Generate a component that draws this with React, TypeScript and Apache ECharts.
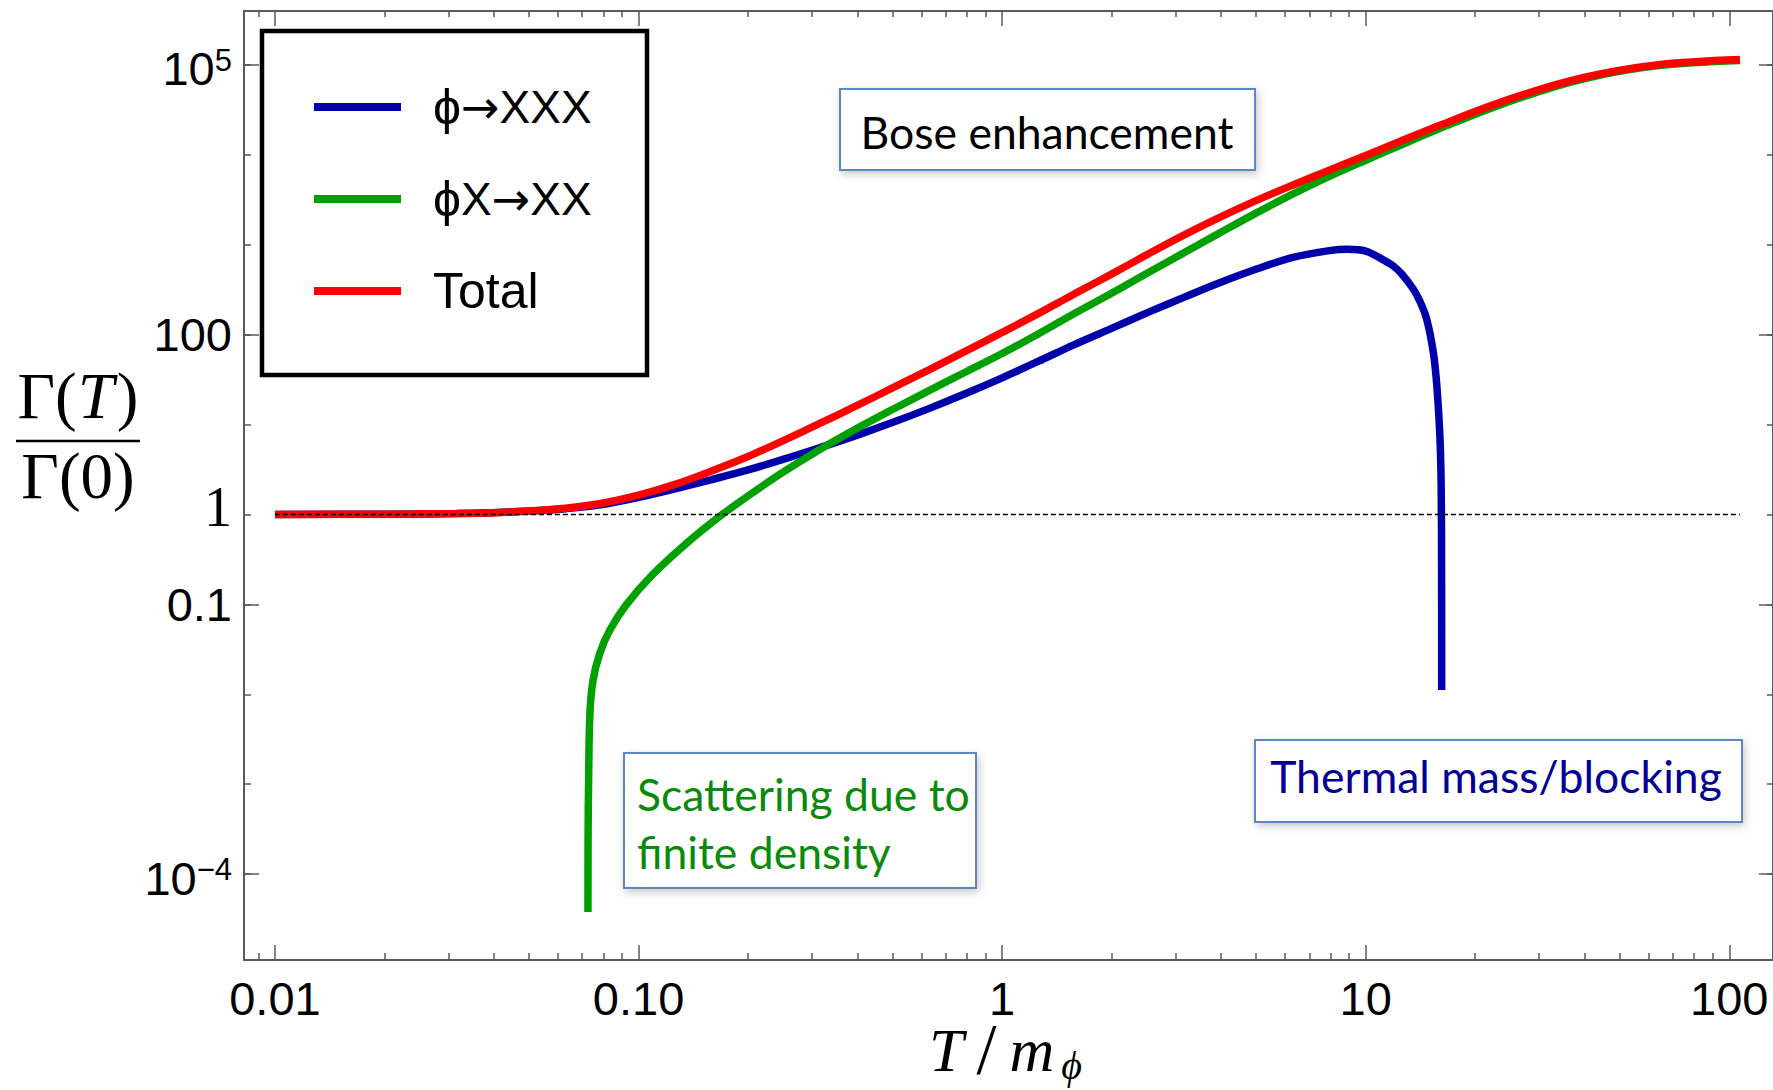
import React, { useEffect, useRef } from 'react';
import * as echarts from 'echarts';

// ---------- data ----------
// phi -> XXX
const blueT = [0.01, 0.02, 0.0316, 0.0398, 0.0501, 0.0631, 0.0794, 0.1, 0.126, 0.158, 0.2, 0.251, 0.316, 0.398, 0.501, 0.631, 0.794, 1, 1.26, 1.58, 2.0, 2.51, 3.16, 3.98, 5.01, 6.31, 7.94, 8.91, 10, 11.2, 11.9, 12.6, 13.5, 14.1, 14.7, 15.35, 15.7, 16.0, 16.13, 16.17, 16.18];
const blueRate = [1.0, 1.007, 1.023, 1.047, 1.091, 1.161, 1.288, 1.549, 1.928, 2.427, 3.126, 4.121, 5.559, 7.586, 10.59, 15.14, 22.13, 33.11, 50.7, 77.62, 117.5, 175.8, 260.0, 380.2, 537.0, 724.4, 861.0, 891.3, 851.1, 676.1, 582.1, 467.7, 323.6, 234.4, 151.4, 63.1, 26.3, 7.413, 1.995, 0.251, 0.0112];

// phi X -> XX
const greenT = [0.0726, 0.07265, 0.0729, 0.0735, 0.075, 0.0783, 0.0834, 0.0927, 0.1096, 0.135, 0.168, 0.2, 0.251, 0.316, 0.398, 0.501, 0.631, 0.794, 1, 1.26, 1.58, 2.0, 2.51, 3.16, 3.98, 5.01, 6.31, 7.94, 10, 12.6, 15.8, 25.1, 39.8, 63.1, 107];
const greenRate = [3.8e-5, 2.51e-4, 1.12e-3, 6.17e-3, 0.01445, 0.02884, 0.05188, 0.1, 0.2168, 0.4721, 0.9661, 1.607, 2.992, 5.321, 9.016, 14.79, 23.99, 38.46, 61.66, 102.3, 171.8, 288.4, 484.2, 812.8, 1365, 2265, 3673, 5754, 8710, 13032, 19275, 39811, 69984, 97724, 112202];

// Total
const totalT = [0.01, 0.02, 0.0316, 0.0398, 0.0501, 0.0631, 0.0794, 0.1, 0.126, 0.158, 0.2, 0.251, 0.316, 0.398, 0.501, 0.631, 0.794, 1, 1.26, 1.58, 2.0, 2.51, 3.16, 3.98, 5.01, 6.31, 7.94, 10, 15.8, 25.1, 39.8, 63.1, 107];
const totalRate = [1.0, 1.007, 1.023, 1.047, 1.096, 1.175, 1.334, 1.641, 2.163, 3.02, 4.416, 6.683, 10.35, 16.22, 25.7, 40.93, 65.61, 105.9, 172.6, 283.8, 471.0, 781.6, 1282, 2032, 3112, 4624, 6761, 9817, 20893, 42170, 72444, 100000, 114815];

// reference line Gamma(T)/Gamma(0) = 1
const refT = [0.01, 107];
const refRate = [1, 1];

const seriesNames = ['ϕ→XXX', 'ϕX→XX', 'Total'];

// ticks
const xMajorTicks = [0.01, 0.1, 1, 10, 100];
const xTickLabels = ['0.01', '0.10', '1', '10', '100'];
const xMinorTicks = [0.009, 0.02, 0.03, 0.04, 0.05, 0.06, 0.07, 0.08, 0.09, 0.2, 0.3, 0.4, 0.5, 0.6, 0.7, 0.8, 0.9, 2, 3, 4, 5, 6, 7, 8, 9, 20, 30, 40, 50, 60, 70, 80, 90];
const yMajorTicks = [1e5, 100, 0.1, 1e-4];
const yMinorTicks = [1e5, 1e4, 1e3, 100, 10, 1, 0.1, 0.01, 1e-3, 1e-4];
const yLabelValues = [1e5, 100, 1, 0.1, 1e-4];
const yTickLabels = ['10^5', '100', '1', '0.1', '10^−4'];

const X_MIN = 0.00822;
const X_MAX = 131.9;
const Y_MIN = 1.109e-5;
const Y_MAX = 3.98e5;

const SANS = "'Liberation Sans', Arial, Helvetica, sans-serif";
const ARROW = "'DejaVu Sans', 'Liberation Sans', sans-serif";
const SERIF = "'Liberation Serif', 'DejaVu Serif', 'Times New Roman', serif";
const CAL = "Lato, 'Open Sans', 'Noto Sans', sans-serif";
const AXIS_COLOR = '#5a5a5a';

const pairs = (xs: number[], ys: number[]) => xs.map((x, i) => [x, ys[i]]);

function nearestIndex(values: number[], v: number) {
  let best = 0;
  let bestD = Infinity;
  values.forEach((t, i) => {
    const d = Math.abs(Math.log10(t) - Math.log10(v));
    if (d < bestD) { bestD = d; best = i; }
  });
  return best;
}

function yLabelFormatter(v: number) {
  const lab = yTickLabels[nearestIndex(yLabelValues, v)];
  if (lab.includes('^')) {
    const [b, s] = lab.split('^');
    return `{b|${b}}{s|${s}}`;
  }
  if (lab === '1') return '{one|1}';
  return `{n|${lab}}`;
}

const legendRich: Record<string, string> = {
  'ϕ→XXX': '{a|ϕ}{ar|→}{x|XXX}',
  'ϕX→XX': '{a|ϕ}{x|X}{ar|→}{x|XX}',
  'Total': '{a|Total}',
};

function buildOption() {
  const tickStyle = { color: AXIS_COLOR, width: 1.5 };
  const xBase: any = {
    type: 'log', logBase: 10, min: X_MIN, max: X_MAX, gridIndex: 0,
    splitLine: { show: false }, minorTick: { show: false }, minorSplitLine: { show: false },
    axisLine: { show: false }, axisTick: { show: false }, axisLabel: { show: false },
  };
  const yBase: any = {
    type: 'log', logBase: 10, min: Y_MIN, max: Y_MAX, gridIndex: 0,
    splitLine: { show: false }, minorTick: { show: false }, minorSplitLine: { show: false },
    axisLine: { show: false }, axisTick: { show: false }, axisLabel: { show: false },
  };
  const line = { show: true, onZero: false, lineStyle: { color: AXIS_COLOR, width: 2 } };
  const major = (vals: number[], len: number) => ({ show: true, inside: true, length: len, customValues: vals, lineStyle: tickStyle });
  const curve = (name: string, xs: number[], ys: number[], color: string, z: number) => ({
    name, type: 'line', xAxisIndex: 0, yAxisIndex: 0,
    data: pairs(xs, ys), showSymbol: false, symbol: 'none',
    smooth: 0.35,
    lineStyle: { color, width: 7.5 }, itemStyle: { color }, z,
  });

  return {
    animation: false,
    backgroundColor: '#ffffff',
    grid: { left: 244, top: 11, right: 0, bottom: 130, containLabel: false, outerBoundsMode: 'none' },
    xAxis: [
      {
        ...xBase, position: 'bottom', axisLine: line, axisTick: major(xMajorTicks, 15),
        axisLabel: {
          show: true, customValues: xMajorTicks, margin: 15,
          fontFamily: SANS, fontSize: 47, color: '#000',
          formatter: (v: number) => xTickLabels[nearestIndex(xMajorTicks, v)],
        },
      },
      { ...xBase, position: 'bottom', axisTick: major(xMinorTicks, 7) },
      { ...xBase, position: 'top', axisLine: line, axisTick: major(xMajorTicks, 15) },
      { ...xBase, position: 'top', axisTick: major(xMinorTicks, 6) },
    ],
    yAxis: [
      {
        ...yBase, position: 'left', axisLine: line, axisTick: major(yMajorTicks, 15),
        axisLabel: {
          show: true, customValues: yLabelValues, margin: 12, align: 'right',
          formatter: yLabelFormatter,
          rich: {
            n: { fontFamily: SANS, fontSize: 47, lineHeight: 52, color: '#000' },
            b: { fontFamily: SANS, fontSize: 47, lineHeight: 52, color: '#000', padding: [8, 0, 0, 0] },
            s: { fontFamily: SANS, fontSize: 31, lineHeight: 26, color: '#000', verticalAlign: 'top', padding: [6, 0, 0, 0] },
            one: { fontFamily: SERIF, fontSize: 56, lineHeight: 56, color: '#000', padding: [0, 0, 14, 0] },
          },
        },
      },
      { ...yBase, position: 'left', axisTick: major(yMinorTicks, 7) },
      { ...yBase, position: 'right', axisLine: line, axisTick: major(yMajorTicks, 14) },
      { ...yBase, position: 'right', axisTick: major(yMinorTicks, 6) },
    ],
    legend: {
      data: seriesNames,
      orient: 'vertical', left: 314, top: 81, padding: 0,
      itemWidth: 87, itemHeight: 8, itemGap: 40, icon: 'rect',
      selectedMode: false,
      formatter: (name: string) => legendRich[name] || name,
      textStyle: {
        color: '#000', fontFamily: SANS, fontSize: 50, lineHeight: 52, padding: [0, 0, 0, 27],
        rich: {
          a: { fontFamily: SANS, fontSize: 50, lineHeight: 52, color: '#000' },
          ar: { fontFamily: ARROW, fontSize: 46, lineHeight: 52, color: '#000' },
          x: { fontFamily: SANS, fontSize: 46, lineHeight: 52, color: '#000' },
        },
      },
    },
    series: [
      curve(seriesNames[0], blueT, blueRate, '#0000AA', 2),
      curve(seriesNames[1], greenT, greenRate, '#00A000', 3),
      curve(seriesNames[2], totalT, totalRate, '#FF0000', 4),
      {
        name: 'ref', type: 'line', xAxisIndex: 0, yAxisIndex: 0,
        data: pairs(refT, refRate), showSymbol: false, symbol: 'none', silent: true,
        lineStyle: { color: '#000', width: 1.6, type: [5, 3] },
        z: 6,
      },
    ],
    graphic: {
      elements: [
        // legend frame
        { type: 'rect', shape: { x: 262, y: 31, width: 385, height: 344 }, style: { fill: 'none', stroke: '#000', lineWidth: 4.5 }, z: 20 },
        // y-axis title: Gamma(T) / Gamma(0)
        {
          type: 'text', x: 78, y: 396, z: 20,
          style: {
            text: '{r|Γ(}{i|T}{r|)}', align: 'center', verticalAlign: 'middle',
            rich: {
              r: { fontFamily: SERIF, fontSize: 65, color: '#000' },
              i: { fontFamily: SERIF, fontSize: 65, fontStyle: 'italic', color: '#000', padding: [0, 3, 0, 1] },
            },
          },
        },
        { type: 'line', shape: { x1: 16, y1: 441, x2: 140, y2: 441 }, style: { stroke: '#000', lineWidth: 2.5 }, z: 20 },
        {
          type: 'text', x: 78, y: 476, z: 20,
          style: { text: 'Γ(0)', align: 'center', verticalAlign: 'middle', fontFamily: SERIF, fontSize: 65, fill: '#000' },
        },
        // x-axis title: T/m_phi
        {
          type: 'text', x: 1003, y: 1050, z: 20,
          style: {
            text: '{i|T}{sl|/}{i|m}{sub|ϕ}', align: 'center', verticalAlign: 'middle',
            rich: {
              i: { fontFamily: SERIF, fontSize: 62, lineHeight: 70, fontStyle: 'italic', color: '#000', padding: [0, 5, 0, 5] },
              sl: { fontFamily: SERIF, fontSize: 72, lineHeight: 58, verticalAlign: 'bottom', color: '#000', padding: [0, 8, 0, 8] },
              sub: { fontFamily: SERIF, fontSize: 40, lineHeight: 30, verticalAlign: 'bottom', fontStyle: 'italic', color: '#000', padding: [0, 0, 0, 2] },
            },
          },
        },
        // annotation: Bose enhancement
        {
          type: 'rect', shape: { x: 840, y: 89, width: 415, height: 81 }, z: 10,
          style: { fill: '#fff', stroke: '#5B87C5', lineWidth: 2, shadowBlur: 8, shadowColor: 'rgba(0,0,0,0.22)', shadowOffsetX: 2, shadowOffsetY: 3 },
        },
        {
          type: 'text', x: 1047, y: 131, z: 11,
          style: { text: 'Bose enhancement', fontFamily: CAL, fontSize: 44.5, fill: '#000', align: 'center', verticalAlign: 'middle' },
        },
        // annotation: scattering
        {
          type: 'rect', shape: { x: 624, y: 753, width: 352, height: 135 }, z: 10,
          style: { fill: '#fff', stroke: '#5B87C5', lineWidth: 2, shadowBlur: 8, shadowColor: 'rgba(0,0,0,0.22)', shadowOffsetX: 2, shadowOffsetY: 3 },
        },
        {
          type: 'text', x: 637, y: 822, z: 11,
          style: { text: 'Scattering due to\nfinite density', fontFamily: CAL, fontSize: 44.5, lineHeight: 58, fill: '#0A8A0A', align: 'left', verticalAlign: 'middle' },
        },
        // annotation: thermal mass
        {
          type: 'rect', shape: { x: 1255, y: 740, width: 487, height: 82 }, z: 10,
          style: { fill: '#fff', stroke: '#5B87C5', lineWidth: 2, shadowBlur: 8, shadowColor: 'rgba(0,0,0,0.22)', shadowOffsetX: 2, shadowOffsetY: 3 },
        },
        {
          type: 'text', x: 1496, y: 775, z: 11,
          style: { text: 'Thermal mass/blocking', fontFamily: CAL, fontSize: 44.5, fill: '#000096', align: 'center', verticalAlign: 'middle' },
        },
      ],
    },
  };
}

export default function App() {
  const ref = useRef<HTMLDivElement>(null);
  useEffect(() => {
    if (!ref.current) return;
    const chart = echarts.init(ref.current, null, { renderer: 'svg' });
    chart.setOption(buildOption() as any);
    return () => chart.dispose();
  }, []);
  return (
    <div
      ref={ref}
      style={{ position: 'fixed', left: 0, top: 0, width: 1773, height: 1090, background: '#fff' }}
    />
  );
}
